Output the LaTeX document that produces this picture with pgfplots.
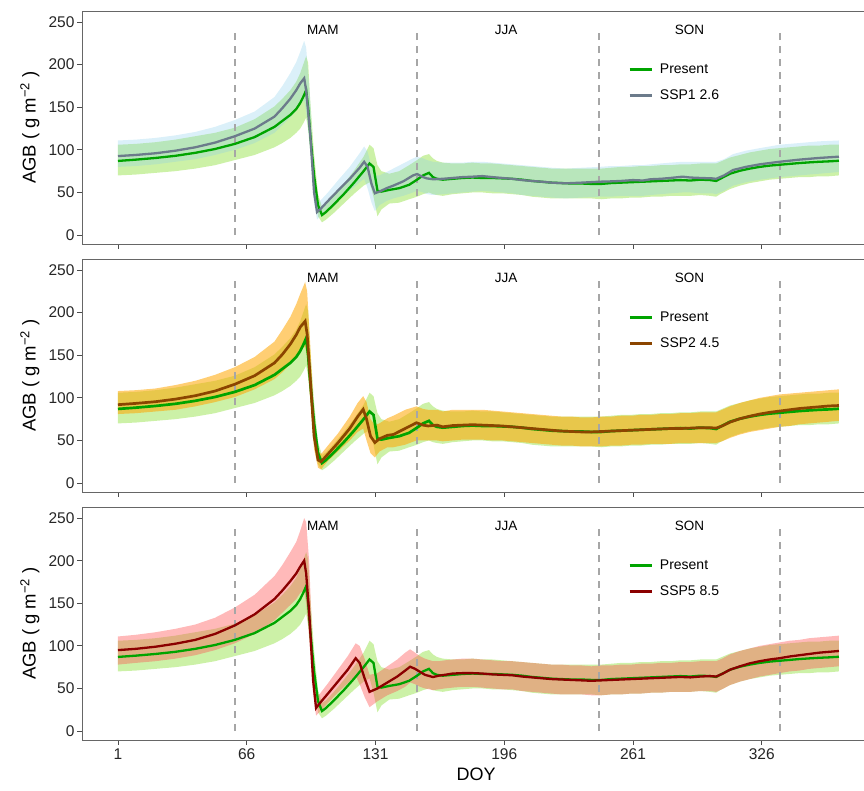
\documentclass[border=0pt]{standalone}
\usepackage{pgfplots}
\pgfplotsset{compat=1.18}
\usepackage{pgfplotstable}
\usepgfplotslibrary{fillbetween}
\usepackage{fontspec}
\setmainfont{Liberation Sans}

\definecolor{presline}{HTML}{00A400}
\definecolor{presband}{HTML}{8FE03C}
\definecolor{sspone}{HTML}{6C7B8B}
\definecolor{ssponeband}{HTML}{87CEEB}
\definecolor{ssptwo}{HTML}{8B4500}
\definecolor{ssptwoband}{HTML}{FFA500}
\definecolor{sspfive}{HTML}{8B0000}
\definecolor{sspfiveband}{HTML}{FF5050}
\definecolor{vline}{HTML}{A6A6A6}

% DOY mean lower upper
\pgfplotstableread{
x m lo hi
1 87 70 106
10 88.5 71 107
20 90.5 73 109
30 93 75 112
40 96.5 78 116
50 101 82 120
60 107 88 126
70 115 94 136
80 127 103 151
84 134 108 160
88 141 114 170
91 148 120 180
93 155 125 190
94.5 162 131 200
96 170 138 210
97 150 125 202
98 120 100 160
100 70 55 95
102 35 22 48
104 23.5 15 33
106 27 18 36
110 36 26 46
115 48 37 60
120 61 48 75
125 75 58 92
128 84 62 106
130 80 45 102
132 52 22 82
134 51 30 75
138 53 37 72
143 55 38 75
148 59 42 82
152 65 45 88
155 70 48 93
158 73 50 95
160 68 48 90
162 66 47 87
165 65 46 85
170 66 48 84
175 67 49 84
180 67.5 50 85
185 67 50 84
190 67 49 84
195 66.5 49 83
200 66 48 82
205 65 47 81
210 63.5 45 80
215 62.5 44 79
220 61.5 43 78
225 61 43 78
230 60.5 43 78
235 60.5 43 78
240 60 43 78
245 60 42 78
250 61 43 79
255 61.5 43 80
260 62 44 80
265 62.5 44 81
270 63 45 81
275 63.5 45 82
280 64 46 82
285 64.5 46 83
290 64 46 83
295 65 47 84
300 64.5 46 84
303 63.5 45 84
305 66 48 86
310 72 54 91
315 75.5 58 94
320 78 61 97
325 80 63 99
330 81.5 65 101
335 82.5 66 102
340 83.5 67 103
345 84.5 68 104
350 85.3 68 105
355 86 69 105
360 86.5 69 106
365 87.2 70 106
}\present

\pgfplotstableread{
x m lo hi
1 92.7 80 111
10 94 81 112
20 96 83 114
30 99 86 117
40 103 89 121
50 108.5 94 127
60 116 100 135
70 125 108 145
80 139 120 162
84 149 129 175
88 160 138 190
91 170 146 203
93 178 153 215
95 184 158 228
96 170 145 220
98 120 100 160
100 50 38 68
101.5 27 18 38
103 30 22 40
107 40 31 50
112 52 41 64
118 66 52 80
123 79 62 96
125.3 86 66 104
127 80 55 98
129 60 38 80
130.7 49 28 70
133 51 35 70
136.6 55 40 74
140 58 43 78
145 63 46 84
150 70 50 90
152 71.6 52 92
155 68 50 90
157 66.5 48 88
160 65.5 47 86
165 66 48 85
170 67 49 85
175 68 50 85
180 68.5 51 86
185 69.2 52 86
190 68 51 85
195 67 50 84
200 66 49 83
205 64.5 47 82
210 63.5 46 81
215 62.6 45 80
220 61.5 44 79
227 60.7 43 78
235 61.5 44 79
244 62.6 45 80
250 63 45 81
255 63.5 46 81
261 64.5 46 82
266 64 46 82
270 65.5 47 83
275 66 48 84
280 67 49 85
286 68.5 50 86
290 67.5 50 86
295 67 49 86
301 66.5 49 86
303 66 48 86
307 70 52 89
311.5 76.3 58 95
318 80 62 99
325 83 65 102
335 86 68 106
345 88.5 70 108
355 90.5 72 110
365 92 74 111
}\sspone

\pgfplotstableread{
x m lo hi
1 92 81 108
10 93.5 82 109
20 95.5 84 111
30 98.5 86 115
40 102.5 90 120
50 108 95 127
60 116 101 136
70 126 110 148
80 141 122 166
84 151 130 180
88 163 140 195
91 174 150 210
93 183 157 222
95.5 190 160 236
96.5 175 148 225
98 125 100 165
100 55 40 75
102 27 18 38
103.5 25 16 34
107 34 26 44
112 47 37 58
118 64 50 78
122 78 60 94
124.8 86.5 64 102
126.5 75 50 95
128.5 55 35 75
130.7 47.5 30 68
133 52 37 70
137 56 42 76
140 57 42 79
146 64 45 86
151.7 70.8 50 90
155 68 50 87
157.6 67 50 86
162 68 50 86
165 66 49 84
170 67.5 50 86
175 68 51 86
180 68.5 51 86
185 68 51 86
190 67.5 50 85
195 67 50 84
200 66 49 83
205 65 48 82
210 64 47 81
215 63 46 80
220 62 45 79
225 61 44 78
230 60.5 44 78
235 60 43 77
240 60 43 77
245 60.5 43 78
250 61 44 78
255 61.5 44 79
260 62 45 79
265 62.5 45 80
270 63 46 80
275 63.5 46 81
280 64 46 81
285 64 47 82
290 64.5 47 82
295 65 47 83
300 65 47 83
303 64.5 47 83
306 67 49 86
310 71.5 53 90
315 75.5 57 94
320 78.5 60 97
325 81 62 100
330 83 64 102
335 84.5 66 104
340 86 67 105
345 87.5 69 106
350 88.5 70 107
355 89.5 71 108
360 90.5 72 109
365 91 73 110
}\ssptwo

\pgfplotstableread{
x m lo hi
1 95 78 111
10 96.5 80 113
20 99 82 116
30 102.5 85 120
40 107 89 125
50 114 95 133
60 124 103 145
70 137 114 160
80 155 130 182
84 165 139 195
88 176 148 210
91 185 155 222
93 193 162 235
95 200 165 250
96 185 150 245
97.5 140 110 200
99.5 60 45 85
101 27 18 40
103 33 23 44
107 44 33 56
112 58 45 72
117 72 56 88
121 85.5 65 103
123 80 55 100
125.5 62 40 85
128 46 28 66
132 50 35 68
137 57 42 76
142 64 47 84
146 71 52 92
148.5 75.5 57 96
151 73 55 92
153.4 69.6 52 88
156 66 50 85
160 63.4 48 82
163 65 49 82
166 66 50 83
170 67.5 51 84
175 68 52 85
180 68 52 85
185 67.5 51 84
190 66.5 50 83
195 66 49 82
200 65.5 49 82
205 64 47 81
210 63 46 80
215 62 45 79
220 61 44 78
225 60.5 43 78
230 60 43 77
235 59.5 43 77
240 59 42 76
245 59.5 42 77
250 60 43 77
255 60.5 43 78
260 61 44 78
265 61.5 44 79
270 62 45 79
275 62.5 45 80
280 63 46 80
285 63.5 46 81
290 63 46 81
295 64 47 82
300 64.5 47 82
303 64 46 82
306 67 49 85
310 72 54 90
315 76 58 94
320 79.5 61 97
325 82 64 100
330 84 66 102
335 85.5 68 104
340 87.5 70 106
345 89 71 107
350 90.5 73 109
355 92 74 110
360 93 75 111
365 94 76 112
}\sspfive

\tikzset{season/.style={font=\fontsize{13.5}{15}\selectfont}}
\pgfplotsset{
  panel/.style={
    scale only axis, width=793pt, height=233pt,
    xmin=-17.17, xmax=383.2, ymin=-10.5, ymax=263,
    xtick={1,66,131,196,261,326}, ytick={0,50,100,150,200,250},
    axis line style={draw=black!60, line width=0.9pt},
    tick style={draw=black!70, line width=0.9pt},
    tick align=outside, major tick length=5pt,
    xtick pos=bottom, ytick pos=left,
    ticklabel style={font=\fontsize{15.5}{17}\selectfont, text=black!85},
    yticklabel style={xshift=1pt},
    /pgf/number format/assume math mode=true,
    ylabel={AGB ( g m\textsuperscript{−2} )},
    ylabel style={at={(axis description cs:-0.0656,0.5)}, anchor=center, font=\fontsize{18.5}{20}\selectfont},
    legend style={draw=none, fill=none, at={(axis description cs:0.685,0.79)}, anchor=north west,
      font=\fontsize{14}{16}\selectfont, row sep=10.5pt},
    legend cell align=left,
    legend image code/.code={\draw[#1] (0pt,0pt) -- (22pt,0pt);},
  },
  vl/.style={vline, line width=2pt, dash pattern=on 7pt off 6pt, forget plot},
}

\newcommand{\decor}{%
  \addplot[vl] coordinates {(60,0) (60,244)};
  \addplot[vl] coordinates {(152,0) (152,244)};
  \addplot[vl] coordinates {(244,0) (244,244)};
  \addplot[vl] coordinates {(335,0) (335,244)};
  \node[season] at (axis cs:104.5,241) {MAM};
  \node[season] at (axis cs:197,241) {JJA};
  \node[season] at (axis cs:289.5,241) {SON};
}

\begin{document}
\begin{tikzpicture}

% ---------- top panel ----------
\begin{axis}[panel, at={(82pt,547pt)}, anchor=south west, xticklabels={}]
  \addplot[draw=none, name path=pu1, forget plot] table[x=x,y=hi] {\present};
  \addplot[draw=none, name path=pl1, forget plot] table[x=x,y=lo] {\present};
  \addplot[fill=presband, fill opacity=0.45, draw=none, forget plot] fill between[of=pu1 and pl1];
  \addplot[draw=none, name path=su1, forget plot] table[x=x,y=hi] {\sspone};
  \addplot[draw=none, name path=sl1, forget plot] table[x=x,y=lo] {\sspone};
  \addplot[fill=ssponeband, fill opacity=0.3, draw=none, forget plot] fill between[of=su1 and sl1];
  \decor
  \addplot[presline, line width=2.3pt, forget plot] table[x=x,y=m] {\present};
  \addplot[sspone, line width=2.3pt, forget plot] table[x=x,y=m] {\sspone};
  \addlegendimage{presline, line width=2.5pt}
  \addlegendentry{\hspace{5pt}Present}
  \addlegendimage{sspone, line width=2.5pt}
  \addlegendentry{\hspace{5pt}SSP1 2.6}
\end{axis}

% ---------- middle panel ----------
\begin{axis}[panel, at={(82pt,299pt)}, anchor=south west, xticklabels={}]
  \addplot[draw=none, name path=pu2, forget plot] table[x=x,y=hi] {\present};
  \addplot[draw=none, name path=pl2, forget plot] table[x=x,y=lo] {\present};
  \addplot[fill=presband, fill opacity=0.45, draw=none, forget plot] fill between[of=pu2 and pl2];
  \addplot[draw=none, name path=su2, forget plot] table[x=x,y=hi] {\ssptwo};
  \addplot[draw=none, name path=sl2, forget plot] table[x=x,y=lo] {\ssptwo};
  \addplot[fill=ssptwoband, fill opacity=0.55, draw=none, forget plot] fill between[of=su2 and sl2];
  \decor
  \addplot[presline, line width=2.7pt, forget plot] table[x=x,y=m] {\present};
  \addplot[ssptwo, line width=2.7pt, forget plot] table[x=x,y=m] {\ssptwo};
  \addlegendimage{presline, line width=2.8pt}
  \addlegendentry{\hspace{5pt}Present}
  \addlegendimage{ssptwo, line width=2.8pt}
  \addlegendentry{\hspace{5pt}SSP2 4.5}
\end{axis}

% ---------- bottom panel ----------
\begin{axis}[panel, at={(82pt,51pt)}, anchor=south west,
    xlabel={DOY},
    xlabel style={at={(axis description cs:0.497,-0.148)}, anchor=center, font=\fontsize{18}{20}\selectfont}]
  \addplot[draw=none, name path=pu3, forget plot] table[x=x,y=hi] {\present};
  \addplot[draw=none, name path=pl3, forget plot] table[x=x,y=lo] {\present};
  \addplot[fill=presband, fill opacity=0.45, draw=none, forget plot] fill between[of=pu3 and pl3];
  \addplot[draw=none, name path=su3, forget plot] table[x=x,y=hi] {\sspfive};
  \addplot[draw=none, name path=sl3, forget plot] table[x=x,y=lo] {\sspfive};
  \addplot[fill=sspfiveband, fill opacity=0.4, draw=none, forget plot] fill between[of=su3 and sl3];
  \decor
  \addplot[presline, line width=2.3pt, forget plot] table[x=x,y=m] {\present};
  \addplot[sspfive, line width=2.3pt, forget plot] table[x=x,y=m] {\sspfive};
  \addlegendimage{presline, line width=2.5pt}
  \addlegendentry{\hspace{5pt}Present}
  \addlegendimage{sspfive, line width=2.5pt}
  \addlegendentry{\hspace{5pt}SSP5 8.5}
\end{axis}

\pgfresetboundingbox
\useasboundingbox (0,0) rectangle (864pt,791pt);
\end{tikzpicture}
\end{document}
